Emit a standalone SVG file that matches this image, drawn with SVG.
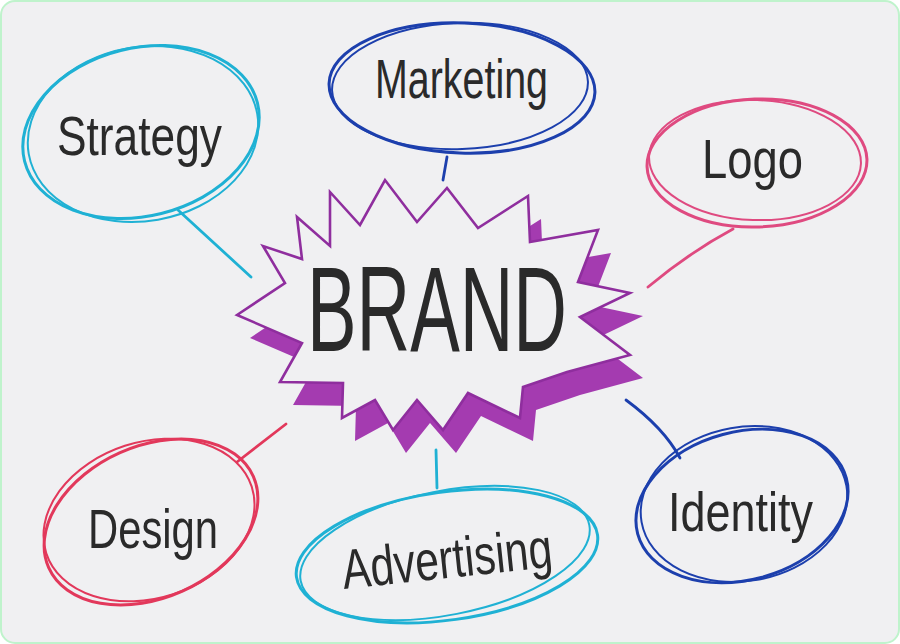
<svg xmlns="http://www.w3.org/2000/svg" width="900" height="644" viewBox="0 0 900 644">
<style>
.lbl{font-family:"Liberation Sans","DejaVu Sans",sans-serif;font-size:56px;fill:#2a2a2a}
.brand{font-family:"Liberation Sans","DejaVu Sans",sans-serif;font-size:120px;fill:#2a2a2a}
.ring{fill:none;stroke-width:3;stroke-linecap:round}
.ring2{fill:none;stroke-width:2;stroke-linecap:round}
.con{fill:none;stroke-width:2.8;stroke-linecap:round}
.cyan{stroke:#1fb1d4}
.blue{stroke:#1c3fad}
.pink{stroke:#df4a80}
.red{stroke:#e2385b}
</style>
<rect x="1" y="1" width="898" height="642" rx="14" fill="#f0f0f2" stroke="#bff3cc" stroke-width="2"/>
<g id="connectors">
<path class="con cyan" d="M178,210 L251,277"/>
<path class="con blue" d="M447,157 L443,180"/>
<path class="con pink" d="M733,229 Q690,252 648,287"/>
<path class="con red" d="M237,462 L286,424"/>
<path class="con cyan" d="M437,488 L436,450"/>
<path class="con blue" d="M626,400 Q664,428 680,458"/>
</g>
<g id="brand">
<polygon transform="translate(13,23)" fill="#a43bb0" points="237,315 285,283 263,246 302,259 297,217 330,246 330,192 360,225 385,180 417,222 447,188 478,228 528,196 530,242 598,230 578,282 630,293 580,317 630,355 567,372 523,387 520,418 468,393 443,430 417,400 393,430 375,400 342,418 343,383 280,382 302,343"/>
<polygon fill="#f0f0f2" stroke="#8f2e9e" stroke-width="2.6" stroke-linejoin="miter" points="237,315 285,283 263,246 302,259 297,217 330,246 330,192 360,225 385,180 417,222 447,188 478,228 528,196 530,242 598,230 578,282 630,293 580,317 630,355 567,372 523,387 520,418 468,393 443,430 417,400 393,430 375,400 342,418 343,383 280,382 302,343"/>
<text class="brand" x="307" y="351" textLength="260" lengthAdjust="spacingAndGlyphs">BRAND</text>
</g>
<g id="strategy">
<ellipse class="ring cyan" cx="141" cy="132" rx="120" ry="84" transform="rotate(-14 141 132)"/>
<ellipse class="ring2 cyan" cx="143" cy="134" rx="116" ry="87" transform="rotate(-10 143 134)"/>
<text class="lbl" x="57" y="155" textLength="165" lengthAdjust="spacingAndGlyphs">Strategy</text>
</g>
<g id="marketing">
<ellipse class="ring blue" cx="462" cy="88" rx="133" ry="65" transform="rotate(2 462 88)"/>
<ellipse class="ring2 blue" cx="460" cy="86" rx="128" ry="63" transform="rotate(-2 460 86)"/>
<text class="lbl" x="375" y="98" textLength="173" lengthAdjust="spacingAndGlyphs">Marketing</text>
</g>
<g id="logo">
<ellipse class="ring pink" cx="757" cy="163" rx="110" ry="64" transform="rotate(-2 757 163)"/>
<ellipse class="ring2 pink" cx="755" cy="160" rx="106" ry="60" transform="rotate(2 755 160)"/>
<text class="lbl" x="702" y="178" textLength="101" lengthAdjust="spacingAndGlyphs">Logo</text>
</g>
<g id="design">
<ellipse class="ring red" cx="151" cy="522" rx="112" ry="76" transform="rotate(-24 151 522)"/>
<ellipse class="ring2 red" cx="149" cy="520" rx="108" ry="78" transform="rotate(-18 149 520)"/>
<text class="lbl" x="88" y="548" textLength="130" lengthAdjust="spacingAndGlyphs">Design</text>
</g>
<g id="advertising">
<ellipse class="ring cyan" cx="447" cy="556" rx="152" ry="64" transform="rotate(-8 447 556)"/>
<ellipse class="ring2 cyan" cx="445" cy="553" rx="147" ry="62" transform="rotate(-11 445 553)"/>
<text class="lbl" x="342" y="578" textLength="211" lengthAdjust="spacingAndGlyphs" transform="rotate(-6 447 565)">Advertising</text>
</g>
<g id="identity">
<ellipse class="ring blue" cx="742" cy="506" rx="108" ry="74" transform="rotate(-15 742 506)"/>
<ellipse class="ring2 blue" cx="744" cy="504" rx="104" ry="77" transform="rotate(-10 744 504)"/>
<text class="lbl" x="668" y="531" textLength="145" lengthAdjust="spacingAndGlyphs">Identity</text>
</g>
</svg>
